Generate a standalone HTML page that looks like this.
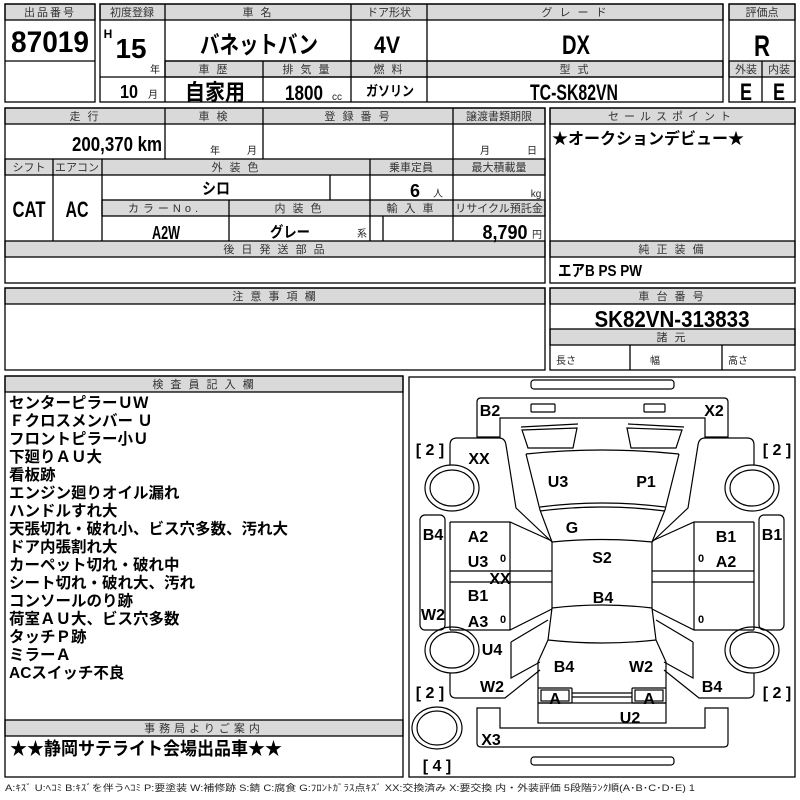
<!DOCTYPE html>
<html><head><meta charset="utf-8"><style>
html,body{margin:0;padding:0;background:#fff;}
svg{display:block;}
.h{fill:#d9d9d9;}
.hl{font-family:"Liberation Sans","Noto Sans CJK JP",sans-serif;font-size:11px;fill:#333;text-anchor:middle;letter-spacing:2px;}
.b{font-family:"Liberation Sans Narrow","Liberation Sans","Noto Sans CJK JP",sans-serif;font-weight:bold;fill:#000;text-anchor:middle;}
.j{font-family:"Liberation Sans","Noto Sans CJK JP",sans-serif;font-weight:bold;fill:#000;}
.s{font-family:"Liberation Sans","Noto Sans CJK JP",sans-serif;font-size:10px;fill:#222;text-anchor:middle;}
.st{text-anchor:start;}
.c{font-family:"Liberation Sans Narrow","Liberation Sans",sans-serif;font-weight:bold;font-size:16px;fill:#000;text-anchor:middle;}
</style></head><body>
<svg width="800" height="800" viewBox="0 0 800 800" xmlns="http://www.w3.org/2000/svg">
<g stroke="#000" stroke-width="1.3" fill="none">
<rect class="h" x="5" y="4" width="90" height="16"/>
<rect x="5" y="4" width="90" height="98"/>
<line x1="5" y1="61" x2="95" y2="61"/>
<rect class="h" x="100" y="4" width="623" height="16"/>
<rect class="h" x="165" y="61" width="558" height="16"/>
<rect x="100" y="4" width="623" height="98"/>
<line x1="165" y1="4" x2="165" y2="102"/><line x1="351" y1="4" x2="351" y2="102"/><line x1="427" y1="4" x2="427" y2="102"/><line x1="263" y1="61" x2="263" y2="102"/>
<line x1="165" y1="61" x2="723" y2="61"/><line x1="100" y1="77" x2="723" y2="77"/>
<rect class="h" x="729" y="4" width="66" height="16"/>
<rect class="h" x="729" y="61" width="66" height="16"/>
<rect x="729" y="4" width="66" height="98"/>
<line x1="762" y1="61" x2="762" y2="102"/>
<rect class="h" x="5" y="108" width="540" height="16"/>
<rect class="h" x="5" y="159" width="540" height="16"/>
<rect class="h" x="102" y="200" width="443" height="16"/>
<rect class="h" x="5" y="241" width="540" height="16"/>
<rect x="5" y="108" width="540" height="175"/>
<line x1="165" y1="108" x2="165" y2="159"/><line x1="263" y1="108" x2="263" y2="159"/><line x1="453" y1="108" x2="453" y2="159"/>
<line x1="53" y1="159" x2="53" y2="241"/><line x1="102" y1="159" x2="102" y2="241"/><line x1="370" y1="159" x2="370" y2="241"/><line x1="453" y1="159" x2="453" y2="241"/>
<line x1="330" y1="175" x2="330" y2="200"/><line x1="229" y1="200" x2="229" y2="241"/><line x1="383" y1="216" x2="383" y2="241"/>
<rect class="h" x="550" y="108" width="245" height="16"/>
<rect class="h" x="550" y="241" width="245" height="16"/>
<rect x="550" y="108" width="245" height="175"/>
<rect class="h" x="5" y="288" width="540" height="16"/>
<rect x="5" y="288" width="540" height="82"/>
<rect class="h" x="550" y="288" width="245" height="16"/>
<rect class="h" x="550" y="329" width="245" height="16"/>
<rect x="550" y="288" width="245" height="82"/>
<line x1="630" y1="345" x2="630" y2="370"/><line x1="722" y1="345" x2="722" y2="370"/>
<rect class="h" x="5" y="376" width="398" height="16"/>
<rect class="h" x="5" y="720" width="398" height="16"/>
<rect x="5" y="376" width="398" height="401"/>
<rect x="409" y="377" width="386" height="400"/>
</g>

<g stroke="#000" stroke-width="1.2" fill="none">
<rect x="531" y="380" width="143" height="9" rx="3"/>
<rect x="531" y="757" width="143" height="8" rx="3"/>
<path d="M477,437 L477,402 Q477,398 481,398 L724,398 Q728,398 728,402 L728,437 L705,437 L705,418 L500,418 L500,437 Z"/>
<rect x="531" y="404" width="24" height="8" rx="1"/>
<rect x="644" y="404" width="21" height="8" rx="1"/>
<path d="M477,708 L500,708 L500,728 L705,728 L705,708 L728,708 L728,743 Q728,747 724,747 L481,747 Q477,747 477,743 Z"/>
<path d="M521,427 L578,424 M628,424 L684,427"/>
<path d="M522,430 L577,428 L573,448 L528,448 Z"/>
<path d="M627,428 L682,430 L676,448 L631,448 Z"/>
<path d="M526,454 Q602,446 679,454"/>
<path d="M526,454 L540,510 L552,542 M679,454 L665,510 L652,542"/>
<path d="M540,507 Q602,499 665,507 M540,511 Q602,503 665,511"/>
<path d="M552,542 Q602,537 652,542 L652,608 Q602,602 552,608 Z"/>
<path d="M552,608 L548,640 L538,662 L538,688 M652,608 L656,640 L666,662 L666,688"/>
<path d="M548,640 Q602,646 656,640"/>
<rect x="538" y="688" width="34" height="15" rx="1"/>
<rect x="541" y="690" width="28" height="11"/>
<rect x="632" y="688" width="34" height="15" rx="1"/>
<rect x="635" y="690" width="28" height="11"/>
<path d="M572,693 L632,693 M572,697 L632,697"/>
<rect x="538" y="703" width="128" height="20"/>
<g id="side">
<path d="M450,465 L450,445 Q450,438 457,438 L499,438 Q505,438 506,445 L516,508 L552,542"/>
<ellipse cx="452" cy="488" rx="27" ry="23"/>
<ellipse cx="452" cy="488" rx="22" ry="18"/>
<rect x="420" y="515" width="25" height="115" rx="5"/>
<path d="M450,522 L510,522 L552,541 M450,630 L510,630 L552,609 M450,522 L450,630 M510,522 L510,630"/>
<path d="M450,571 L552,571 M450,582 L552,582"/>
<ellipse cx="452" cy="650" rx="27" ry="23"/>
<ellipse cx="452" cy="650" rx="22" ry="18"/>
<path d="M450,673 L450,692 Q450,698 456,698 L505,698 L540,670"/>
<path d="M511,642 L548,620 M511,642 L511,678 L540,662"/>
</g>
<use href="#side" transform="translate(1204,0) scale(-1,1)"/>
<ellipse cx="437" cy="728" rx="25" ry="21"/>
<ellipse cx="437" cy="728" rx="20" ry="17"/>
</g>

<text class="hl" x="50" y="16">出品番号</text>
<text class="hl" x="132" y="16" style="letter-spacing:0">初度登録</text>
<text class="hl" x="258" y="16">車 名</text>
<text class="hl" x="389" y="16" style="letter-spacing:0">ドア形状</text>
<text class="hl" x="575" y="16">グ レ ー ド</text>
<text class="hl" x="762" y="16" style="letter-spacing:0">評価点</text>
<text class="hl" x="214" y="73">車 歴</text>
<text class="hl" x="307" y="73">排 気 量</text>
<text class="hl" x="389" y="73">燃 料</text>
<text class="hl" x="575" y="73">型 式</text>
<text class="hl" x="746" y="73" style="letter-spacing:0">外装</text>
<text class="hl" x="779" y="73" style="letter-spacing:0">内装</text>
<text class="hl" x="85" y="120">走 行</text>
<text class="hl" x="214" y="120">車 検</text>
<text class="hl" x="358" y="120">登 録 番 号</text>
<text class="hl" x="499" y="120" style="letter-spacing:0">譲渡書類期限</text>
<text class="hl" x="29" y="171" style="letter-spacing:0">シフト</text>
<text class="hl" x="77" y="171" style="letter-spacing:0">エアコン</text>
<text class="hl" x="236" y="171">外 装 色</text>
<text class="hl" x="411" y="171" style="letter-spacing:0">乗車定員</text>
<text class="hl" x="499" y="171" style="letter-spacing:0">最大積載量</text>
<text class="hl" x="165" y="212" style="letter-spacing:4px">カラーNo.</text>
<text class="hl" x="299" y="212">内 装 色</text>
<text class="hl" x="411" y="212">輸 入 車</text>
<text class="hl" x="499" y="212" style="letter-spacing:0">リサイクル預託金</text>
<text class="hl" x="275" y="253">後 日 発 送 部 品</text>
<text class="hl" x="672" y="120" style="letter-spacing:5px">セールスポイント</text>
<text class="hl" x="672" y="253">純 正 装 備</text>
<text class="hl" x="275" y="300">注 意 事 項 欄</text>
<text class="hl" x="672" y="300">車 台 番 号</text>
<text class="hl" x="672" y="341">諸 元</text>
<text class="hl" x="204" y="388">検 査 員 記 入 欄</text>
<text class="hl" x="204" y="732" style="letter-spacing:4px">事務局よりご案内</text>

<text class="b" x="50" y="52" font-size="30" textLength="78" lengthAdjust="spacingAndGlyphs">87019</text>
<text class="b" x="108" y="38" font-size="12">H</text>
<text class="b" x="131" y="58" font-size="28" textLength="31" lengthAdjust="spacingAndGlyphs">15</text>
<text class="s" x="155" y="73">年</text>
<text class="b" x="129" y="98" font-size="18" textLength="18" lengthAdjust="spacingAndGlyphs">10</text>
<text class="s" x="153" y="98">月</text>
<text class="j" x="259" y="53" font-size="24" text-anchor="middle" textLength="118" lengthAdjust="spacingAndGlyphs">バネットバン</text>
<text class="b" x="387" y="53" font-size="24" textLength="26" lengthAdjust="spacingAndGlyphs">4V</text>
<text class="b" x="576" y="54" font-size="27" textLength="28" lengthAdjust="spacingAndGlyphs">DX</text>
<text class="b" x="762" y="56" font-size="30" textLength="16" lengthAdjust="spacingAndGlyphs">R</text>
<text class="j" x="215" y="100" font-size="22" text-anchor="middle" textLength="60" lengthAdjust="spacingAndGlyphs">自家用</text>
<text class="b" x="304" y="100" font-size="21" textLength="38" lengthAdjust="spacingAndGlyphs">1800</text>
<text class="s" x="337" y="100">cc</text>
<text class="j" x="390" y="96" font-size="14" text-anchor="middle" textLength="48" lengthAdjust="spacingAndGlyphs">ガソリン</text>
<text class="b" x="574" y="100" font-size="22" textLength="88" lengthAdjust="spacingAndGlyphs">TC-SK82VN</text>
<text class="b" x="746" y="100" font-size="24" textLength="12" lengthAdjust="spacingAndGlyphs">E</text>
<text class="b" x="779" y="100" font-size="24" textLength="12" lengthAdjust="spacingAndGlyphs">E</text>
<text class="b" x="117" y="151" font-size="20" textLength="90" lengthAdjust="spacingAndGlyphs">200,370 km</text>
<text class="s" x="215" y="154">年</text>
<text class="s" x="252" y="154">月</text>
<text class="s" x="485" y="154">月</text>
<text class="s" x="532" y="154">日</text>
<text class="b" x="29" y="217" font-size="22" textLength="33" lengthAdjust="spacingAndGlyphs">CAT</text>
<text class="b" x="77" y="217" font-size="22" textLength="23" lengthAdjust="spacingAndGlyphs">AC</text>
<text class="j" x="216" y="194" font-size="16" text-anchor="middle" textLength="28" lengthAdjust="spacingAndGlyphs">シロ</text>
<text class="b" x="415" y="197" font-size="18">6</text>
<text class="s" x="438" y="197">人</text>
<text class="s" x="536" y="197">kg</text>
<text class="b" x="166" y="239" font-size="18" textLength="28" lengthAdjust="spacingAndGlyphs">A2W</text>
<text class="j" x="290" y="237" font-size="15" text-anchor="middle" textLength="40" lengthAdjust="spacingAndGlyphs">グレー</text>
<text class="s" x="362" y="237">系</text>
<text class="b" x="505" y="239" font-size="20" textLength="45" lengthAdjust="spacingAndGlyphs">8,790</text>
<text class="s" x="537" y="238">円</text>
<text class="j" x="552" y="144" font-size="16">★オークションデビュー★</text>
<text class="j" x="558" y="276" font-size="16" textLength="84" lengthAdjust="spacingAndGlyphs">エアB PS PW</text>
<text class="b" x="672" y="327" font-size="23" textLength="155" lengthAdjust="spacingAndGlyphs">SK82VN-313833</text>
<text class="s st" x="556" y="364">長さ</text>
<text class="s st" x="650" y="364">幅</text>
<text class="s st" x="728" y="364">高さ</text>

<g class="j" font-size="15.5">
<text x="9" y="408">センターピラーＵＷ</text>
<text x="9" y="426">Ｆクロスメンバー Ｕ</text>
<text x="9" y="444">フロントピラー小Ｕ</text>
<text x="9" y="462">下廻りＡＵ大</text>
<text x="9" y="480">看板跡</text>
<text x="9" y="498">エンジン廻りオイル漏れ</text>
<text x="9" y="516">ハンドルすれ大</text>
<text x="9" y="534">天張切れ・破れ小、ビス穴多数、汚れ大</text>
<text x="9" y="552">ドア内張割れ大</text>
<text x="9" y="570">カーペット切れ・破れ中</text>
<text x="9" y="588">シート切れ・破れ大、汚れ</text>
<text x="9" y="606">コンソールのり跡</text>
<text x="9" y="624">荷室ＡＵ大、ビス穴多数</text>
<text x="9" y="642">タッチＰ跡</text>
<text x="9" y="660">ミラーＡ</text>
<text x="9" y="678">ACスイッチ不良</text>
</g>
<text class="j" x="10" y="755" font-size="18" textLength="272" lengthAdjust="spacingAndGlyphs">★★静岡サテライト会場出品車★★</text>

<g class="c">
<text x="490" y="416">B2</text><text x="714" y="416">X2</text>
<text x="479" y="464">XX</text><text x="558" y="487">U3</text><text x="646" y="487">P1</text>
<text x="572" y="533">G</text>
<text x="433" y="540">B4</text><text x="478" y="542">A2</text><text x="478" y="567">U3</text>
<text x="500" y="584">XX</text><text x="478" y="601">B1</text><text x="433" y="620">W2</text><text x="478" y="627">A3</text>
<text x="602" y="563">S2</text><text x="603" y="603">B4</text>
<text x="772" y="540">B1</text><text x="726" y="542">B1</text><text x="726" y="567">A2</text>
<text x="492" y="655">U4</text><text x="564" y="672">B4</text><text x="641" y="672">W2</text>
<text x="492" y="692">W2</text><text x="712" y="692">B4</text>
<text x="555" y="704">A</text><text x="649" y="704">A</text>
<text x="630" y="723">U2</text><text x="491" y="745">X3</text>
</g>
<g class="b" font-size="11" font-weight="normal">
<text x="503" y="562">0</text><text x="503" y="623">0</text><text x="701" y="562">0</text><text x="701" y="623">0</text>
</g>
<g class="b" font-size="16" font-weight="normal">
<text x="430" y="455">[ 2 ]</text><text x="777" y="455">[ 2 ]</text>
<text x="430" y="698">[ 2 ]</text><text x="777" y="698">[ 2 ]</text>
<text x="437" y="771">[ 4 ]</text>
</g>
<text x="5" y="791" font-family="Liberation Sans,Noto Sans CJK JP,sans-serif" font-size="9" fill="#222" textLength="690" lengthAdjust="spacingAndGlyphs">A:ｷｽﾞ U:ﾍｺﾐ B:ｷｽﾞを伴うﾍｺﾐ P:要塗装 W:補修跡 S:錆 C:腐食 G:ﾌﾛﾝﾄｶﾞﾗｽ点ｷｽﾞ XX:交換済み X:要交換 内・外装評価 5段階ﾗﾝｸ順(A･B･C･D･E) 1</text>
</svg>
</body></html>
